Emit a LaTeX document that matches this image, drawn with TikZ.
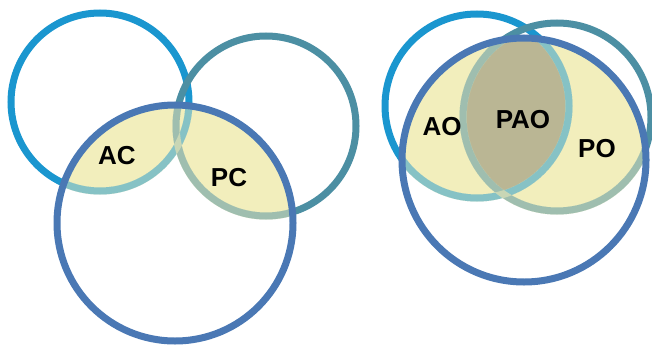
\documentclass[tikz,border=0pt]{standalone}
\usepackage{fontspec}
\setmainfont{Liberation Sans}
\definecolor{cA}{RGB}{26,150,207}
\definecolor{cP}{RGB}{76,143,163}
\definecolor{cO}{RGB}{74,120,180}
\definecolor{fillY}{RGB}{242,238,188}
\definecolor{fillO}{RGB}{186,182,148}
\tikzset{
  ring/.style={line width=7pt},
  veil/.style={line width=7.5pt, draw=fillY, draw opacity=0.5},
  lbl/.style={font=\fontsize{26}{26}\selectfont\bfseries, text=black, inner sep=0pt}
}
\begin{document}
\begin{tikzpicture}[x=1pt,y=-1pt]
\useasboundingbox (0,0) rectangle (652,350);
% ---------- left diagram ----------
\coordinate (lA) at (100,102);
\coordinate (lP) at (266,126);
\coordinate (lC) at (175,223);
\begin{scope}
  \clip (lC) circle (118);
  \fill[fillY] (lA) circle (89);
  \fill[fillY] (lP) circle (90);
\end{scope}
\draw[ring, cA] (lA) circle (89);
\draw[ring, cP] (lP) circle (90);
\begin{scope}
  \clip (lC) circle (118);
  \draw[veil] (lA) circle (89);
  \draw[veil] (lP) circle (90);
\end{scope}
\draw[ring, cO] (lC) circle (118);
\node[lbl] (ac) at (117,156) {AC};
\node[lbl] (pc) at (229,178) {PC};
% ---------- right diagram ----------
\coordinate (rA) at (477,106);
\coordinate (rP) at (557,117);
\coordinate (rO) at (524,160);
\begin{scope}
  \clip (rO) circle (122);
  \fill[fillY] (rA) circle (92);
  \fill[fillY] (rP) circle (94);
  \begin{scope}
    \clip (rA) circle (92);
    \fill[fillO] (rP) circle (94);
  \end{scope}
\end{scope}
\draw[ring, cA] (rA) circle (92);
\draw[ring, cP] (rP) circle (94);
\begin{scope}
  \clip (rO) circle (122);
  \draw[veil] (rA) circle (92);
  \draw[veil] (rP) circle (94);
\end{scope}
\draw[ring, cO] (rO) circle (122);
\node[lbl] (ao) at (442,127) {AO};
\node[lbl] (pao) at (523,120) {PAO};
\node[lbl] (po) at (597,149) {PO};
\end{tikzpicture}
\end{document}
